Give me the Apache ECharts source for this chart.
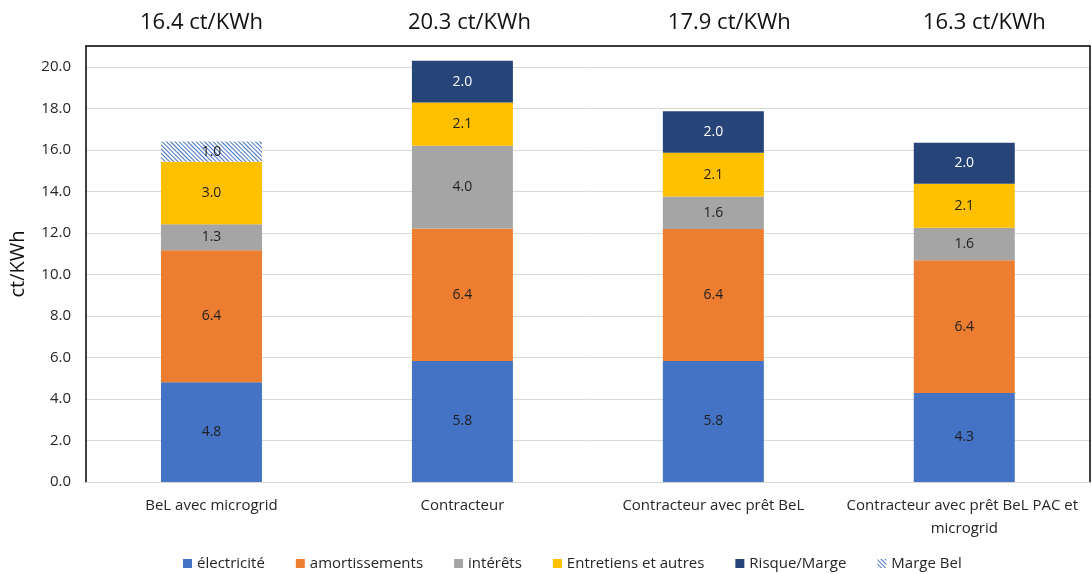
<!DOCTYPE html>
<html>
<head>
<meta charset="utf-8">
<script src="https://cdn.jsdelivr.net/npm/echarts@6/dist/echarts.min.js"></script>
<style>
  html, body { margin: 0; padding: 0; background: #fff; }
  #chart { width: 1092px; height: 574px; }
</style>
</head>
<body>
<div id="chart"></div>
<script>
// Cost breakdown per scenario, in ct/KWh
const categories = ['BeL avec microgrid', 'Contracteur', 'Contracteur avec prêt BeL', 'Contracteur avec prêt BeL PAC et microgrid'];
const electricite = [4.80, 5.83, 5.83, 4.29];
const amortissements = [6.36, 6.38, 6.36, 6.39];
const interets = [1.26, 3.98, 1.56, 1.56];
const entretiens = [3.00, 2.09, 2.11, 2.12];
const risqueMarge = [null, 2.01, 2.00, 1.98];
const margeBel = [0.98, null, null, null];
const yTicks = [0, 2, 4, 6, 8, 10, 12, 14, 16, 18, 20];

const seriesDefs = [
  { name: 'électricité', data: electricite, color: '#4472C4', text: '#1f1f1f' },
  { name: 'amortissements', data: amortissements, color: '#ED7D31', text: '#1f1f1f' },
  { name: 'intérêts', data: interets, color: '#A5A5A5', text: '#1f1f1f' },
  { name: 'Entretiens et autres', data: entretiens, color: '#FFC000', text: '#1f1f1f' },
  { name: 'Risque/Marge', data: risqueMarge, color: '#264478', text: '#ffffff' },
  { name: 'Marge Bel', data: margeBel, color: '#ffffff', text: '#1f1f1f', hatch: true }
];

// Totals shown above each stack
const totals = categories.map((_, i) =>
  seriesDefs.reduce((s, d) => s + (d.data[i] || 0), 0));
const totalLabels = totals.map(t => t.toFixed(1) + ' ct/KWh');

// Horizontal nudge of each total label (px), via rich-text padding
const totalShift = [-10, 7, 16, 20];
const totalRich = {};
totalShift.forEach((s, i) => {
  totalRich['t' + i] = {
    fontSize: 22,
    color: '#111',
    padding: s >= 0 ? [0, 0, 0, 2 * s] : [0, -2 * s, 0, 0]
  };
});

const FONT = "'Open Sans', 'Noto Sans', sans-serif";

const chart = echarts.init(document.getElementById('chart'), null, { renderer: 'canvas' });

chart.setOption({
  animation: false,
  textStyle: { fontFamily: FONT },
  grid: { left: 84, right: 2, top: 46, bottom: 92, containLabel: false },
  legend: {
    top: 551,
    left: 178,
    itemWidth: 9,
    itemHeight: 9,
    itemGap: 31,
    icon: 'rect',
    textStyle: { fontSize: 15, color: '#262626', fontFamily: FONT },
    data: seriesDefs.map(d => d.name)
  },
  xAxis: [
    {
      type: 'category',
      data: categories,
      axisLine: { show: true, onZero: false, lineStyle: { color: '#d9d9d9', width: 1 } },
      axisTick: { show: false },
      axisLabel: {
        interval: 0,
        fontSize: 15,
        color: '#262626',
        margin: 12,
        width: 250,
        overflow: 'break',
        lineHeight: 23
      }
    },
    {
      type: 'category',
      position: 'top',
      data: totalLabels,
      axisLine: { show: true, onZero: false, lineStyle: { color: '#000', width: 1.5 } },
      axisTick: { show: false },
      axisLabel: {
        interval: 0,
        margin: 12,
        formatter: (v, i) => '{t' + i + '|' + v + '}',
        rich: totalRich
      }
    }
  ],
  yAxis: [
    {
      type: 'value',
      min: 0,
      max: 21,
      interval: 2,
      name: 'ct/KWh',
      nameLocation: 'middle',
      nameGap: 58,
      nameTextStyle: { fontSize: 20, color: '#111' },
      axisLine: { show: true, onZero: false, lineStyle: { color: '#000', width: 1.5 } },
      axisTick: { show: false },
      axisLabel: {
        fontSize: 15,
        color: '#262626',
        margin: 15,
        formatter: v => (yTicks.indexOf(v) >= 0 ? v.toFixed(1) : '')
      },
      splitLine: { show: true, lineStyle: { color: '#d9d9d9', width: 1 } }
    },
    {
      type: 'value',
      min: 0,
      max: 21,
      position: 'right',
      axisLine: { show: true, onZero: false, lineStyle: { color: '#000', width: 1.5 } },
      axisTick: { show: false },
      axisLabel: { show: false },
      splitLine: { show: false }
    }
  ],
  series: seriesDefs.map(d => ({
    name: d.name,
    type: 'bar',
    stack: 'total',
    barWidth: 101,
    data: d.data,
    itemStyle: d.hatch ? {
      color: d.color,
      decal: {
        symbol: 'rect',
        color: '#4472C4',
        dashArrayX: [1, 0],
        dashArrayY: [1, 2],
        rotation: Math.PI / 4,
        symbolSize: 1
      }
    } : { color: d.color },
    label: {
      show: true,
      position: 'inside',
      fontSize: 14,
      color: d.text,
      formatter: p => (p.value == null ? '' : Number(p.value).toFixed(1))
    }
  }))
});
</script>
</body>
</html>
